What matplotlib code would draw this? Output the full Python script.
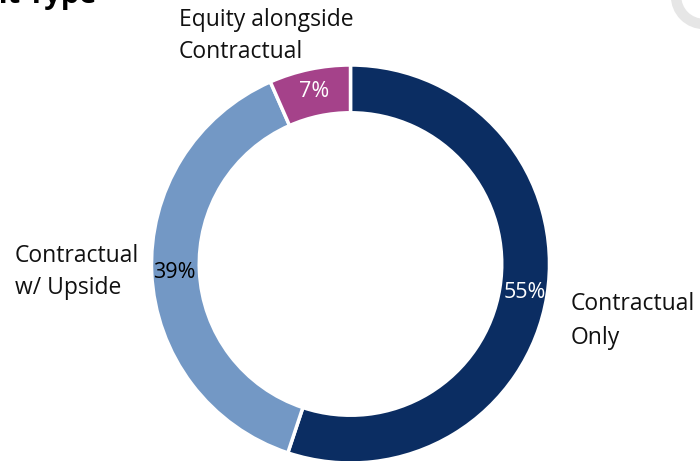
import matplotlib
matplotlib.use("Agg")
import matplotlib.pyplot as plt
from matplotlib.patches import Circle
import numpy as np

plt.rcParams['font.family'] = ['Open Sans', 'DejaVu Sans']

# shares (clockwise from 12 o'clock)
categories = ["Contractual\nOnly", "Contractual\nw/ Upside", "Equity alongside\nContractual"]
shares = [55.1, 38.3, 6.6]
pct_labels = ["55%", "39%", "7%"]
colors = ["#0B2D62", "#7398C5", "#A5428A"]
pct_colors = ["white", "black", "white"]

fig = plt.figure(figsize=(7, 4.61), dpi=100)
W, H = 700, 461

# donut: centre (350, 264) px, radius 199 px
cx, cy, r = 350.5, 264, 199
ax = fig.add_axes([(cx - r) / W, (H - cy - r) / H, 2 * r / W, 2 * r / H])

wedges, _ = ax.pie(shares, colors=colors, startangle=90, counterclock=False,
                   radius=1.0, wedgeprops=dict(width=0.24, edgecolor="white", linewidth=2.5))
ax.set_xlim(-1, 1)
ax.set_ylim(-1, 1)
ax.set_aspect("equal")
ax.axis("off")

# percentage labels in the ring
for w, lab, c in zip(wedges, pct_labels, pct_colors):
    ang = np.deg2rad((w.theta1 + w.theta2) / 2)
    ax.text(0.885 * np.cos(ang), 0.885 * np.sin(ang), lab, ha="center", va="center",
            fontsize=15.5, color=c)

# outer category labels
fig.text(571 / W, 1 - 321 / H, categories[0], ha="left", va="center", fontsize=16.5,
         color="#111111", linespacing=1.5)
fig.text(15 / W, 1 - 272 / H, categories[1], ha="left", va="center", fontsize=16.5,
         color="#111111", linespacing=1.5)
fig.text(179 / W, 1 - 36 / H, categories[2], ha="left", va="center", fontsize=16.5,
         color="#111111", linespacing=1.45)

# cut-off title at the top left
fig.text(96 / W, 1 - 3 / H, "Investment Type", ha="right", va="baseline", fontsize=21,
         fontweight="bold", color="black")

# faint decorative ring at the top right
fig.patches.append(Circle((7.04, 4.65), 0.28, transform=fig.dpi_scale_trans, fill=False,
                          edgecolor="#E6E6E6", linewidth=7.5))

fig.savefig("out.png", dpi=100)
